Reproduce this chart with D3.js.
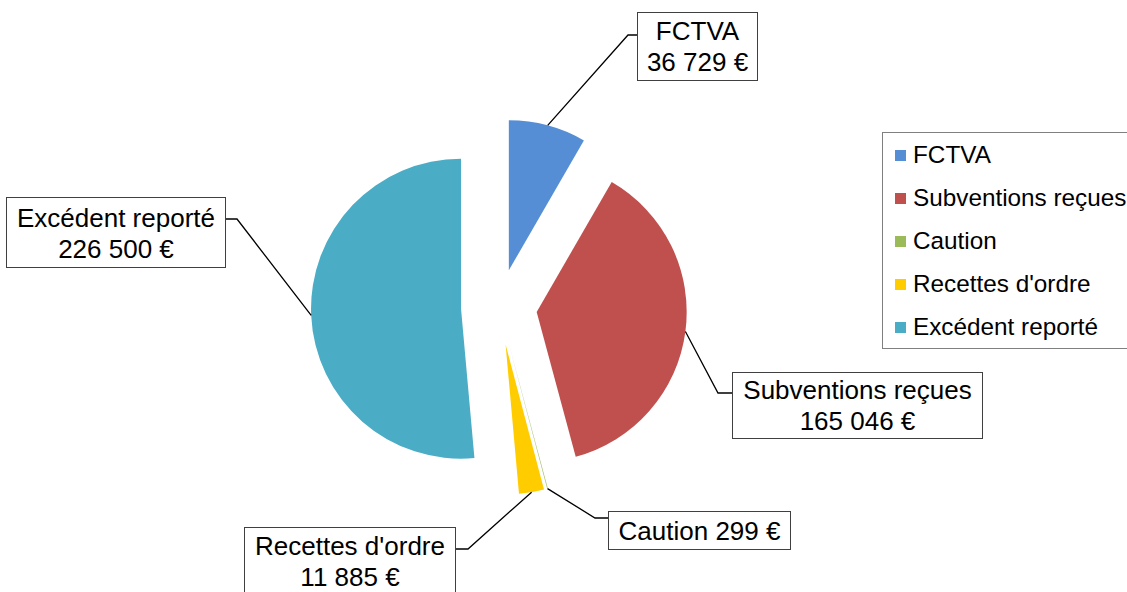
<!DOCTYPE html>
<html>
<head>
<meta charset="utf-8">
<script src="https://cdn.jsdelivr.net/npm/d3@7"></script>
<style>
  body { margin: 0; background: #fff; }
  text { font-family: "Liberation Sans", Arial, sans-serif; fill: #000; }
</style>
</head>
<body>
<div class="pie-container"></div>
<script>
// data
const categories = ['FCTVA', 'Subventions reçues', 'Caution', "Recettes d'ordre", 'Excédent reporté'];
const values = [36729, 165046, 299, 11885, 226500];
const colors = ['#558ed5', '#c0504d', '#9bbb59', '#ffcc00', '#4bacc6'];

const formatEuro = v => d3.format(',')(v).replace(/,/g, ' ') + ' €';

// label boxes (layout only)
const labelLayout = [
  {x: 637, y: 12, w: 120, h: 68, lines: 2, base: 40, attachY: 35, side: 'left', elbow: 628},
  {x: 732, y: 372, w: 250, h: 66, lines: 2, base: 399, attachY: 393, side: 'left', elbow: 718},
  {x: 608, y: 511, w: 182, h: 38, lines: 1, base: 540, attachY: 518, side: 'left', elbow: 595},
  {x: 244, y: 527, w: 211, h: 80, lines: 2, base: 555, attachY: 549, side: 'right', elbow: 468},
  {x: 6, y: 197, w: 219, h: 70, lines: 2, base: 227, attachY: 219, side: 'right', elbow: 237}
];

function setupCanvas(){
  const svg_width = 1127;
  const svg_height = 592;
  const center = {x: 499, y: 307};
  const radius = 150;
  const explode = 38;

  const svg = d3.select('.pie-container')
                .append('svg')
                .attr('width', svg_width).attr('height', svg_height);

  const pie = d3.pie().sort(null).value(d => d.value);
  const data = categories.map((c, i) => ({name: c, value: values[i], color: colors[i]}));
  const arcs = pie(data);

  const arc = d3.arc().innerRadius(0).outerRadius(radius);
  const edgeArc = d3.arc().innerRadius(radius).outerRadius(radius);

  // offset of each slice along its mid angle
  const offset = d => {
    const a = (d.startAngle + d.endAngle) / 2;
    return [explode * Math.sin(a), -explode * Math.cos(a)];
  };

  const g = svg.append('g').attr('transform', `translate(${center.x},${center.y})`);

  g.selectAll('.slice')
   .data(arcs)
   .enter()
   .append('path')
   .attr('class', 'slice')
   .attr('d', arc)
   .attr('transform', d => `translate(${offset(d)})`)
   .style('fill', d => d.data.color);

  // leader lines + label boxes
  arcs.forEach((d, i) => {
    const L = labelLayout[i];
    const o = offset(d);
    const c = edgeArc.centroid(d);
    const px = center.x + o[0] + c[0];
    const py = center.y + o[1] + c[1];
    const ax = L.side === 'left' ? L.x : L.x + L.w;

    svg.append('polyline')
       .attr('points', `${px},${py} ${L.elbow},${L.attachY} ${ax},${L.attachY}`)
       .style('fill', 'none').style('stroke', '#000').style('stroke-width', 1.3);

    svg.append('rect')
       .attr('x', L.x + 0.5).attr('y', L.y + 0.5)
       .attr('width', L.w).attr('height', L.h)
       .style('fill', '#fff').style('stroke', '#404040').style('stroke-width', 1);

    const lines = L.lines === 2
      ? [d.data.name, formatEuro(d.data.value)]
      : [d.data.name + ' ' + formatEuro(d.data.value)];
    lines.forEach((t, j) => {
      svg.append('text')
         .attr('x', L.x + L.w / 2 + 0.5)
         .attr('y', L.base + j * 31)
         .attr('text-anchor', 'middle')
         .style('font-size', '26px')
         .text(t);
    });
  });

  // legend
  const legend = svg.append('g').attr('class', 'legend');
  legend.append('rect')
        .attr('x', 882.5).attr('y', 132.5)
        .attr('width', 260).attr('height', 216)
        .style('fill', '#fff').style('stroke', '#808080').style('stroke-width', 1);

  const item = legend.selectAll('.item')
                     .data(data)
                     .enter()
                     .append('g')
                     .attr('class', 'item')
                     .attr('transform', (d, i) => `translate(895,${163 + i * 43})`);
  item.append('rect')
      .attr('x', 0).attr('y', -13).attr('width', 11).attr('height', 11)
      .style('fill', d => d.color);
  item.append('text')
      .attr('x', 18).attr('y', 0)
      .style('font-size', '24.3px')
      .text(d => d.name);
}

setupCanvas();
</script>
</body>
</html>
